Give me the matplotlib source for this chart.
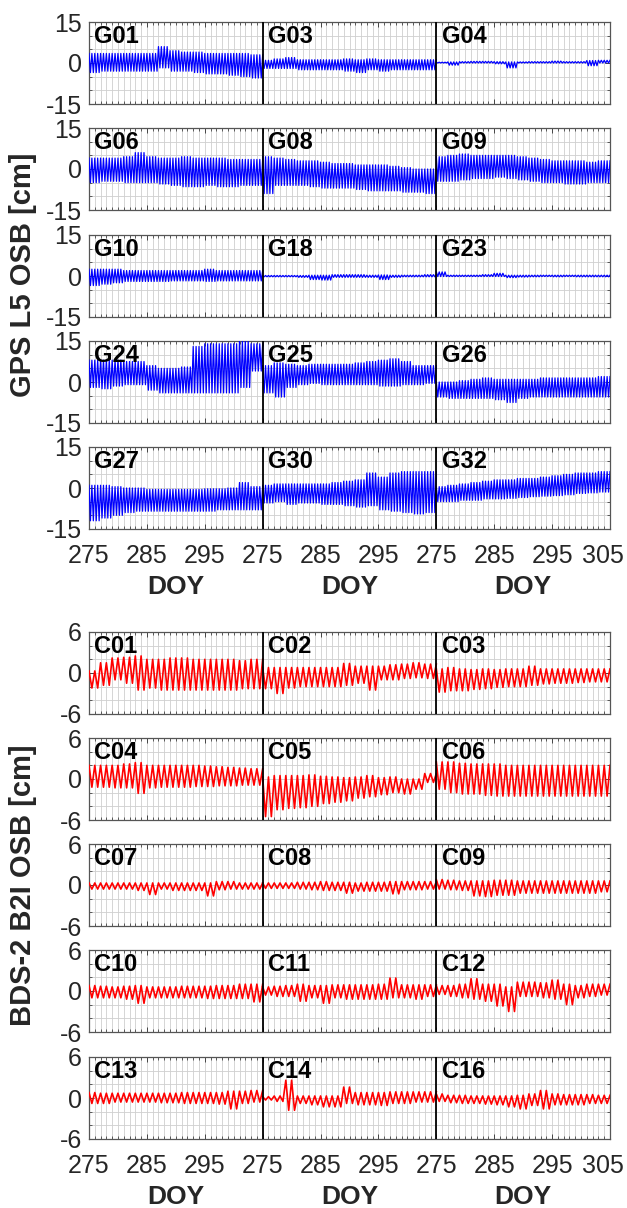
import numpy as np
import matplotlib.pyplot as plt
import matplotlib.transforms as mtransforms
from matplotlib.ticker import MultipleLocator, FixedLocator

plt.rcParams['font.family'] = ['Liberation Sans', 'DejaVu Sans']

# Each series is read off the picture as upper / lower envelope per 2-day block
# (blocks start at DOY 275, 277, ..., 303). Units: cm.
G01_HI = [3.5, 3.5, 3.5, 3.5, 3.5, 3.5, 6.0, 4.5, 4, 4, 3.5, 3.5, 3.5, 3.5, 3]
G01_LO = [-3.5, -3, -3, -3, -3, -3, -1.8, -3, -3, -3.5, -4, -4, -4.5, -5, -5.5]
G03_HI = [1, 1.5, 2, 1.2, 1.2, 1.2, 1.2, 1.5, 1.2, 1.5, 1.2, 1.2, 1.2, 1.2, 1.2]
G03_LO = [-2, -2, -2, -2.5, -2.5, -2.5, -2.5, -3, -3.5, -2.5, -3, -2.5, -2.5, -2.5, -2.5]
G04_HI = [0.3, 0.4, 0.5, 0.6, 0.6, 0.5, 0.4, 0.4, 0.5, 0.5, 0.7, 0.5, 0.5, 0.9, 1.0]
G04_LO = [0, -0.8, 0, 0, 0, -0.3, -1.8, 0, 0, 0, 0, 0, 0, -1, 0]
G06_HI = [4, 4, 4, 4.5, 6, 4.5, 4, 4, 4.5, 4, 4, 4, 3.5, 3.5, 3.5]
G06_LO = [-5, -4.5, -4.5, -5, -5, -5, -5.5, -6, -6.5, -6.5, -6, -6.5, -6.5, -6, -6]
G08_HI = [4.5, 4, 3.5, 3, 3, 2.5, 2, 2, 1.5, 1.5, 1.5, 1, 0.5, 0, 0]
G08_LO = [-9, -6, -6, -6, -6.5, -7, -7, -7, -7.5, -8, -8, -8, -8.5, -8.5, -9]
G09_HI = [4.5, 5, 5.5, 5, 5, 5, 5, 4.5, 4, 3.5, 3, 3, 3, 2.5, 3]
G09_LO = [-4.5, -4.5, -4, -3.5, -3.5, -3, -3.5, -4, -4.5, -5, -5, -5.5, -5.5, -5, -5]
G10_HI = [2.5, 2.5, 2.5, 2, 2, 2, 2, 2, 2, 2, 2.5, 2, 2, 2, 2]
G10_LO = [-3.5, -3, -2.5, -2, -2, -2, -2, -1.8, -1.8, -1.8, -2, -1.8, -1.8, -1.8, -1.8]
G18_HI = [0.2, 0.2, 0.2, 0.2, 0.3, 0.3, 0.5, 0.5, 0.5, 0.3, 0.4, 0.3, 0.3, 0.3, 0.5]
G18_LO = [-0.3, -0.3, -0.3, -0.5, -1.3, -1.5, -0.5, -0.5, -0.5, -0.5, -1.3, -0.5, -0.3, -0.3, -0.3]
G23_HI = [1.5, 0.3, 0.3, 0.3, 0.5, 1, 0.3, 0.3, 0.3, 0.3, 0.3, 0.3, 0.3, 0.3, 0.3]
G23_LO = [-0.2, -0.2, -0.2, -0.2, -0.2, -0.2, -0.6, -0.4, -0.3, -0.2, -0.3, -0.2, -0.3, -0.3, -0.3]
G24_HI = [8, 8, 8, 7.5, 7.5, 6, 5, 5, 5.5, 13, 14, 14, 14, 15, 14]
G24_LO = [-2, -2.5, -1.5, -1, -1, -3, -4, -4, -4, -4, -4, -4, -4, -2, 4]
G25_HI = [6, 7, 6.5, 6, 6.5, 6.5, 6.5, 6.5, 7, 7.5, 8, 8.5, 7.5, 6, 6]
G25_LO = [-4, -5.5, -2, -1, -0.5, -1, -1, -1, -1, -1, -1.5, -1.5, -1, -1, -0.5]
G26_HI = [0, 0, 0.5, 1, 1.5, 1, 1, 1, 1, 1.5, 1.5, 1.5, 1.5, 1.5, 2]
G26_LO = [-5.5, -6, -6, -6, -6, -6.5, -7.5, -6, -5.5, -5.5, -5.5, -5.5, -5.5, -5.5, -5.5]
G27_HI = [1, 1, 0.5, 0, 0, -0.5, -0.5, -0.5, -0.5, -0.5, -0.3, -0.3, 0, 2, 0.5]
G27_LO = [-12, -11, -10, -9, -8.5, -8.5, -8.5, -8.5, -8.5, -8.5, -8.5, -8, -8, -8, -8]
G30_HI = [1, 1.5, 1.5, 1.5, 1.5, 1.5, 2, 2.5, 3, 5.5, 4, 5.5, 6, 6, 6]
G30_LO = [-5.5, -5, -6, -5.5, -5.5, -6, -6, -6.5, -7, -6.5, -8, -8.5, -9, -9.5, -9]
G32_HI = [0.5, 1, 1.5, 2, 2.5, 3, 3, 3.5, 3.5, 4, 4.5, 5, 5.5, 5.5, 6]
G32_LO = [-5, -5, -4.5, -4.5, -4, -4, -3.8, -3.5, -3.2, -3, -2.8, -2.5, -2, -1.8, -1.5]

C01_HI = [0.3, 1.5, 2.2, 2.3, 2.5, 2, 2, 2.2, 2.2, 2, 2, 2, 2, 1.8, 2]
C01_LO = [-2.2, -1.8, -1, -1.5, -2.5, -2.2, -2.5, -2.5, -2.5, -2.5, -2.5, -2.5, -2.5, -2.3, -2.3]
C02_HI = [0.8, 0.8, 0.8, 0.8, 0.8, 0.8, 0.8, 1.4, 1, 1, 1, 1.2, 1.3, 1.5, 1.3]
C02_LO = [-2.3, -3, -2.2, -2, -2, -2, -2, -1.8, -1.5, -2.5, -1, -1, -0.8, -0.7, -0.8]
C03_HI = [0.6, 0.8, 0.6, 0.5, 0.6, 0.5, 0.6, 0.6, 1, 0.6, 0.6, 0.6, 0.6, 0.6, 0.6]
C03_LO = [-2.8, -2.6, -2.6, -2.4, -2.3, -2.1, -2, -2, -1.8, -1.6, -1.5, -1.5, -1.4, -1.3, -1.3]
C04_HI = [2, 2, 2, 2.2, 2.4, 2, 2, 2, 2, 2, 1.9, 1.8, 1.7, 1.6, 1.5]
C04_LO = [-1.2, -1.2, -1.3, -1.3, -2.1, -1.3, -1.2, -1.2, -1.2, -1.1, -1.1, -1, -1, -0.9, -0.9]
C05_HI = [0.3, 0.5, 0.5, 0.5, 0.6, 0.4, 0.3, 0.2, 0.3, 0.5, 0.2, 0.3, 0, 0, 0.8]
C05_LO = [-5.5, -4.5, -4.3, -4.2, -4, -3.6, -3.4, -3.2, -2.8, -2.6, -2.3, -2, -2.2, -1.5, -0.5]
C06_HI = [2.5, 2.5, 2.3, 2.2, 2.2, 2.2, 2, 2, 2, 2, 2, 2, 2, 2, 2]
C06_LO = [-1.5, -2, -2.2, -2.2, -2.4, -2.5, -2.5, -2.5, -2.5, -2.5, -2.5, -2.5, -2.5, -2.5, -2.5]
C07_HI = [0.3, 0.3, 0.3, 0.3, 0.3, 0.3, 0.3, 0.3, 0.3, 0.3, 0.3, 0.5, 0.5, 0.3, 0.3]
C07_LO = [-0.6, -0.6, -0.6, -0.6, -0.8, -1.4, -0.6, -0.8, -0.8, -0.8, -1.6, -0.7, -0.6, -0.6, -0.6]
C08_HI = [0.3, 0.3, 0.3, 0.4, 0.4, 0.5, 0.4, 0.4, 0.3, 0.4, 0.4, 0.5, 0.5, 0.5, 0.5]
C08_LO = [-0.5, -0.5, -0.5, -0.6, -0.7, -0.8, -0.8, -1.2, -0.9, -0.9, -0.9, -1.3, -0.7, -0.7, -0.6]
C09_HI = [0.8, 0.7, 0.6, 0.6, 0.6, 0.7, 0.7, 0.6, 0.6, 0.6, 0.6, 0.6, 0.6, 0.6, 0.6]
C09_LO = [-0.6, -0.7, -0.8, -1.6, -1.7, -1.5, -1.5, -1.2, -1.2, -1.2, -1.2, -1.2, -1.2, -1.2, -1.0]
C10_HI = [0.8, 0.7, 0.6, 0.7, 0.8, 0.6, 0.6, 0.6, 0.7, 0.7, 0.7, 0.8, 0.8, 1, 1]
C10_LO = [-1, -1, -1, -1.2, -1.8, -1, -1, -1, -1, -1, -1.1, -1.1, -1.1, -1.1, -1.6]
C11_HI = [0.6, 0.7, 0.8, 1, 0.8, 0.8, 0.9, 0.9, 0.9, 0.9, 1, 1.9, 0.9, 0.9, 0.9]
C11_LO = [-0.6, -0.8, -0.8, -1.5, -1, -1.8, -1, -1.2, -1.2, -1.2, -1.2, -1, -1, -1.2, -0.8]
C12_HI = [0.8, 0.8, 1, 1.8, 1, 1, 0.6, 1.3, 1.3, 1.2, 1.6, 1, 0.8, 1, 1]
C12_LO = [-0.5, -0.8, -1, -1.2, -1.5, -2.2, -3, -0.8, -0.8, -1, -1.2, -2, -1, -0.8, -0.6]
C13_HI = [0.8, 0.7, 0.7, 0.7, 0.7, 0.7, 0.7, 0.7, 0.8, 0.8, 0.8, 0.8, 1, 1, 1.1]
C13_LO = [-0.8, -0.8, -0.6, -0.6, -0.6, -0.6, -0.7, -0.7, -0.8, -0.8, -0.8, -0.9, -1.6, -0.8, -0.6]
C14_HI = [0.2, 0.3, 2.6, 0.3, 0.3, 0.3, 0.3, 1.6, 0.8, 0.8, 0.8, 0.9, 0.9, 0.9, 0.9]
C14_LO = [-0.3, -0.5, -1.8, -0.8, -1, -1.3, -1.3, -0.8, -1, -1, -1.1, -0.8, -0.8, -0.6, -0.6]
C16_HI = [0.6, 0.4, 0.4, 0.3, 0.3, 0.3, 0.3, 0.4, 0.6, 1.1, 0.6, 0.5, 0.5, 0.5, 0.4]
C16_LO = [-0.5, -0.7, -0.8, -0.8, -0.9, -1, -1.3, -1.6, -1.1, -1.6, -1, -1, -1, -0.8, -0.8]

GPS_ROWS = [
    [('G01', G01_HI, G01_LO), ('G03', G03_HI, G03_LO), ('G04', G04_HI, G04_LO)],
    [('G06', G06_HI, G06_LO), ('G08', G08_HI, G08_LO), ('G09', G09_HI, G09_LO)],
    [('G10', G10_HI, G10_LO), ('G18', G18_HI, G18_LO), ('G23', G23_HI, G23_LO)],
    [('G24', G24_HI, G24_LO), ('G25', G25_HI, G25_LO), ('G26', G26_HI, G26_LO)],
    [('G27', G27_HI, G27_LO), ('G30', G30_HI, G30_LO), ('G32', G32_HI, G32_LO)],
]
BDS_ROWS = [
    [('C01', C01_HI, C01_LO), ('C02', C02_HI, C02_LO), ('C03', C03_HI, C03_LO)],
    [('C04', C04_HI, C04_LO), ('C05', C05_HI, C05_LO), ('C06', C06_HI, C06_LO)],
    [('C07', C07_HI, C07_LO), ('C08', C08_HI, C08_LO), ('C09', C09_HI, C09_LO)],
    [('C10', C10_HI, C10_LO), ('C11', C11_HI, C11_LO), ('C12', C12_HI, C12_LO)],
    [('C13', C13_HI, C13_LO), ('C14', C14_HI, C14_LO), ('C16', C16_HI, C16_LO)],
]

DOY_START, DOY_SPAN = 275, 30
XTICK_LABELS = ['275', '285', '295', '275', '285', '295', '275', '285', '295', '305']

FIG_W, FIG_H = 627, 1208
AX_LEFT, AX_W, AX_H = 89, 521, 82
GPS_TOPS = [22, 128, 235, 341, 447]
BDS_TOPS = [632, 738, 844, 950, 1057]


def zigzag(hi, lo, cycles_per_day):
    # peaks take the block's upper value, troughs the block's lower value
    n = DOY_SPAN * cycles_per_day * 2
    t = np.arange(n + 1) / (2.0 * cycles_per_day)
    blk = np.minimum((t // 2).astype(int), len(hi) - 1)
    y = np.where(np.arange(n + 1) % 2 == 0, np.take(hi, blk), np.take(lo, blk))
    return t, y


def draw_row(fig, top, row, ylim, ystep, color, lw, cycles, show_x):
    ax = fig.add_axes([AX_LEFT / FIG_W, 1 - (top + AX_H) / FIG_H, AX_W / FIG_W, AX_H / FIG_H])
    for k, (name, hi, lo) in enumerate(row):
        off = k * DOY_SPAN
        t, y = zigzag(hi, lo, cycles)
        ax.plot(off + t, y, color=color, lw=lw, zorder=3)
        ax.text(off + 0.9, ylim - ylim * 0.08, name, fontsize=17, fontweight='bold', va='top', ha='left', zorder=5)
    for k in (1, 2):
        ax.axvline(k * DOY_SPAN, color='black', lw=1.3, zorder=4)

    ax.set_xlim(0, 3 * DOY_SPAN)
    ax.set_ylim(-ylim, ylim)
    ax.xaxis.set_major_locator(FixedLocator(np.arange(0, 91, 10)))
    ax.xaxis.set_minor_locator(MultipleLocator(1))
    ax.yaxis.set_major_locator(FixedLocator([-ylim, 0, ylim]))
    ax.yaxis.set_minor_locator(MultipleLocator(ystep))
    ax.set_yticklabels([f'{-ylim}', '0', f'{ylim}'])
    if show_x:
        ax.set_xticklabels(XTICK_LABELS)
    else:
        ax.set_xticklabels([])
    ax.grid(True, which='both', color='#cfcfcf', lw=0.6)
    ax.set_axisbelow(True)
    ax.tick_params(which='both', direction='in', top=True, right=True, colors='#444444',
                   labelcolor='#262626', labelsize=18)
    ax.tick_params(which='major', length=3.5, width=0.7)
    ax.tick_params(which='minor', length=2, width=0.6)
    ax.tick_params(axis='x', pad=11)
    ax.tick_params(axis='y', pad=5)
    for sp in ax.spines.values():
        sp.set_color('#555555')
        sp.set_linewidth(0.9)
    if show_x:
        # the last label sits a little left of its tick, as in the source figure
        last = ax.get_xticklabels()[-1]
        last.set_transform(last.get_transform() + mtransforms.ScaledTranslation(-7 / 100, 0, fig.dpi_scale_trans))
        for k in range(3):
            ax.text(k * DOY_SPAN + DOY_SPAN / 2, -0.71, 'DOY', transform=ax.get_xaxis_transform(),
                    ha='center', va='center', fontsize=19, fontweight='bold', color='#262626')
    return ax


fig = plt.figure(figsize=(FIG_W / 100, FIG_H / 100), dpi=100)

for i, top in enumerate(GPS_TOPS):
    draw_row(fig, top, GPS_ROWS[i], 15, 5, '#0000ff', 0.9, 2, i == len(GPS_TOPS) - 1)
for i, top in enumerate(BDS_TOPS):
    draw_row(fig, top, BDS_ROWS[i], 6, 2, '#ff0000', 1.2, 1, i == len(BDS_TOPS) - 1)

fig.text(23 / FIG_W, 1 - 275 / FIG_H, 'GPS L5 OSB [cm]', rotation=90, ha='center', va='center',
         fontsize=21, fontweight='bold', color='#262626')
fig.text(23 / FIG_W, 1 - 885 / FIG_H, 'BDS-2 B2I OSB [cm]', rotation=90, ha='center', va='center',
         fontsize=21, fontweight='bold', color='#262626')

fig.savefig('out.png', dpi=100)
